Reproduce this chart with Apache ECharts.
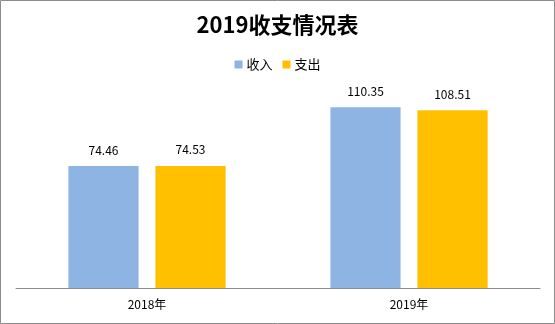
<!DOCTYPE html>
<html><head><meta charset="utf-8">
<script src="https://cdn.jsdelivr.net/npm/echarts@6/dist/echarts.min.js"></script>
<style>html,body{margin:0;padding:0;background:#fff}#c{width:555px;height:324px}</style>
</head><body><div id="c"></div>
<script>
var categories = ['2018年', '2019年'];
var income = [74.46, 110.35];
var expense = [74.53, 108.51];
var seriesNames = ['收入', '支出'];
var font = '"Noto Sans CJK SC", "Noto Sans", sans-serif';
var chart = echarts.init(document.getElementById('c'));
chart.setOption({
  animation: false,
  backgroundColor: '#fff',
  title: {
    text: '2019收支情况表', left: 'center', top: 9,
    textStyle: {fontFamily: font, fontSize: 22, fontWeight: 'bold', color: '#000'}
  },
  legend: {
    data: seriesNames, top: 53, left: 'center', itemWidth: 8, itemHeight: 8, itemGap: 10,
    icon: 'rect',
    textStyle: {fontFamily: font, fontSize: 13, color: '#000', padding: [0,0,0,-1]}
  },
  grid: {left: 16, right: 15, top: 91.4, bottom: 36},
  xAxis: {
    type: 'category', data: categories,
    axisLine: {lineStyle: {color: '#8c8c8c', width: 1}},
    axisTick: {show: false},
    axisLabel: {fontFamily: font, fontSize: 12, color: '#000', margin: 10}
  },
  yAxis: {type: 'value', min: 0, max: 120, show: false, splitLine: {show: false}},
  series: [
    {name: seriesNames[0], type: 'bar', data: income, barGap: '24%', barCategoryGap: '40%',
     itemStyle: {color: '#8EB4E3'},
     label: {show: true, position: 'top', distance: 10, fontFamily: font, fontSize: 12, color: '#000'}},
    {name: seriesNames[1], type: 'bar', data: expense,
     itemStyle: {color: '#FFC000'},
     label: {show: true, position: 'top', distance: 10, fontFamily: font, fontSize: 12, color: '#000'}}
  ],
  graphic: [{type: 'rect', shape: {x: 0.5, y: 0.5, width: 554, height: 323}, style: {fill: null, stroke: '#8c8c8c', lineWidth: 1}, silent: true, z: 100}]
});
</script></body></html>
